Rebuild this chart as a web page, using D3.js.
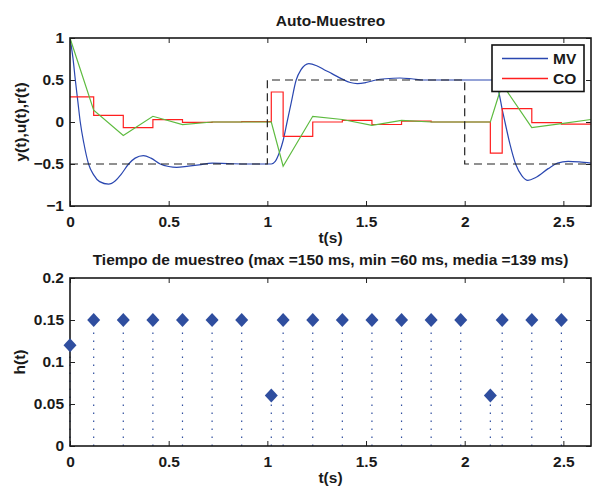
<!DOCTYPE html>
<html>
<head>
<meta charset="utf-8">
<script src="https://cdn.jsdelivr.net/npm/d3@7"></script>
<style>
  body { margin: 0; background: #fff; }
  svg text { font-family: "Liberation Sans", Arial, Helvetica, sans-serif; font-weight: bold; font-size: 15.5px; fill: #1a1a1a; }
</style>
</head>
<body>
<svg id="chart" width="592" height="487"></svg>
<script>
// sampling instants (s) and the period chosen at each of them (s)
const sampleT = [0, 0.12, 0.27, 0.42, 0.57, 0.72, 0.87, 1.02, 1.08, 1.23, 1.38, 1.53, 1.68, 1.83, 1.98, 2.13, 2.19, 2.34, 2.49];
const sampleH = [0.12, 0.15, 0.15, 0.15, 0.15, 0.15, 0.15, 0.06, 0.15, 0.15, 0.15, 0.15, 0.15, 0.15, 0.15, 0.06, 0.15, 0.15, 0.15];
const tEnd = 2.64;

// CO, held between samples
const coVals = [0.30, 0.08, -0.067, 0.028, -0.005, 0.0, 0.005, 0.357, -0.17, 0.0, 0.02, -0.03, 0.01, 0.0, 0.0, -0.37, 0.16, -0.008, -0.025];
// green trace, joined sample to sample (last value at tEnd)
const uVals = [1.0, 0.14, -0.16, 0.068, -0.03, 0.0, 0.0, 0.0, -0.527, 0.068, 0.03, -0.04, 0.02, 0.0, 0.0, 0.0, 0.45, -0.067, -0.02, 0.03];

// MV, plant output
const mvT = [0, 0.008, 0.015, 0.027, 0.04, 0.052, 0.07, 0.094, 0.12, 0.15, 0.195, 0.23, 0.26, 0.297, 0.33, 0.372, 0.41, 0.457,
  0.5, 0.54, 0.6, 0.654, 0.72, 0.8, 0.9, 1.02, 1.04, 1.06, 1.08, 1.1, 1.12, 1.146, 1.17, 1.21, 1.25, 1.29, 1.327, 1.38,
  1.42, 1.456, 1.5, 1.55, 1.6, 1.672, 1.73, 1.79, 2.0, 2.15, 2.163, 2.173, 2.19, 2.204, 2.23, 2.258, 2.29, 2.32, 2.36,
  2.423, 2.47, 2.524, 2.58, 2.64];
const mvVals = [1.0, 0.88, 0.76, 0.5, 0.24, 0.0, -0.25, -0.5, -0.63, -0.71, -0.74, -0.70, -0.62, -0.5, -0.43, -0.40, -0.43, -0.5,
  -0.53, -0.54, -0.525, -0.51, -0.49, -0.495, -0.5, -0.5, -0.47, -0.37, -0.22, 0.0, 0.22, 0.5, 0.62, 0.695, 0.67, 0.62, 0.576, 0.51,
  0.47, 0.457, 0.47, 0.5, 0.515, 0.524, 0.515, 0.5, 0.5, 0.5, 0.45, 0.357, 0.15, 0.0, -0.27, -0.5, -0.64, -0.694, -0.66,
  -0.555, -0.49, -0.468, -0.475, -0.49];

// reference r(t)
const refT = [0, 1, 1, 2, 2, 2.64];
const refVals = [-0.5, -0.5, 0.5, 0.5, -0.5, -0.5];

const xTicks = [0, 0.5, 1, 1.5, 2, 2.5];
const yTicksTop = [-1, -0.5, 0, 0.5, 1];
const yTicksBottom = [0, 0.05, 0.1, 0.15, 0.2];
const legendNames = ["MV", "CO"];

const blue = "#2a47b0", red = "#ff1f1f", green = "#5dbb3f", markBlue = "#2f4e9f";

const svg = d3.select("#chart");
const left = 70, right = 591;

const x = d3.scaleLinear().domain([0, tEnd]).range([left, right]);
const yTop = d3.scaleLinear().domain([-1, 1]).range([206, 38]);
const yBot = d3.scaleLinear().domain([0, 0.2]).range([446, 278]);

const fmt = d => String(d).replace("-", "\u2212");

function frame(y, yTicks, clipId) {
  const [y1, y0] = y.range();
  const g = svg.append("g");

  g.append("g")
    .attr("transform", `translate(0,${y1})`)
    .call(d3.axisBottom(x).tickValues(xTicks).tickSizeInner(-5).tickSizeOuter(0).tickPadding(10).tickFormat(fmt));
  g.append("g")
    .attr("transform", `translate(0,${y0})`)
    .call(d3.axisTop(x).tickValues(xTicks).tickSizeInner(-5).tickSizeOuter(0).tickFormat(""));
  g.append("g")
    .attr("transform", `translate(${left},0)`)
    .call(d3.axisLeft(y).tickValues(yTicks).tickSizeInner(-5).tickSizeOuter(0).tickPadding(6).tickFormat(fmt));
  g.append("g")
    .attr("transform", `translate(${right},0)`)
    .call(d3.axisRight(y).tickValues(yTicks).tickSizeInner(-5).tickSizeOuter(0).tickFormat(""));

  g.selectAll(".domain").remove();
  g.selectAll(".tick line").attr("stroke", "#222").attr("stroke-width", 1);

  svg.append("defs").append("clipPath").attr("id", clipId)
    .append("rect").attr("x", left).attr("y", y0).attr("width", right - left).attr("height", y1 - y0);

  return g;
}

function box(y) {
  const [y1, y0] = y.range();
  svg.append("rect")
    .attr("x", left).attr("y", y0)
    .attr("width", right - left).attr("height", y1 - y0)
    .attr("fill", "none").attr("stroke", "#1a1a1a").attr("stroke-width", 1.6);
}

// ---- top panel ----
frame(yTop, yTicksTop, "clipTop");
const plotTop = svg.append("g").attr("clip-path", "url(#clipTop)");

const mvLine = d3.line().x(d => x(d[0])).y(d => yTop(d[1])).curve(d3.curveMonotoneX);
plotTop.append("path")
  .datum(d3.zip(mvT, mvVals))
  .attr("d", mvLine)
  .attr("fill", "none").attr("stroke", blue).attr("stroke-width", 1.2);

const coLine = d3.line().x(d => x(d[0])).y(d => yTop(d[1])).curve(d3.curveStepAfter);
plotTop.append("path")
  .datum(d3.zip(sampleT.concat([tEnd]), coVals.concat([coVals[coVals.length - 1]])))
  .attr("d", coLine)
  .attr("fill", "none").attr("stroke", red).attr("stroke-width", 1.2);

const straight = d3.line().x(d => x(d[0])).y(d => yTop(d[1]));
plotTop.append("path")
  .datum(d3.zip(sampleT.concat([tEnd]), uVals))
  .attr("d", straight)
  .attr("fill", "none").attr("stroke", green).attr("stroke-width", 1.2);

plotTop.append("path")
  .datum(d3.zip(refT, refVals))
  .attr("d", straight)
  .attr("fill", "none").attr("stroke", "#222").attr("stroke-width", 1.2)
  .attr("stroke-dasharray", "8,5");

box(yTop);

svg.append("text")
  .attr("x", (left + right) / 2).attr("y", 25.5)
  .attr("text-anchor", "middle")
  .text("Auto-Muestreo");
svg.append("text")
  .attr("x", (left + right) / 2).attr("y", 243)
  .attr("text-anchor", "middle")
  .text("t(s)");
svg.append("text")
  .attr("transform", `translate(26,${(yTop.range()[0] + yTop.range()[1]) / 2}) rotate(-90)`)
  .attr("text-anchor", "middle")
  .text("y(t),u(t),r(t)");

// legend
const legend = svg.append("g").attr("transform", "translate(492,45)");
legend.append("rect")
  .attr("width", 92).attr("height", 46.5)
  .attr("fill", "#fff").attr("stroke", "#111").attr("stroke-width", 1.6);
legend.selectAll("g.item")
  .data(legendNames)
  .join("g")
  .attr("class", "item")
  .attr("transform", (d, i) => `translate(0,${13.5 + i * 20})`)
  .each(function (d, i) {
    const item = d3.select(this);
    item.append("line")
      .attr("x1", 10).attr("x2", 56)
      .attr("stroke", i === 0 ? blue : red).attr("stroke-width", 1.3);
    item.append("text")
      .attr("x", 61).attr("y", 0).attr("dy", "0.36em")
      .text(d);
  });

// ---- bottom panel ----
frame(yBot, yTicksBottom, "clipBot");
const samples = d3.zip(sampleT, sampleH);

svg.append("g")
  .selectAll("line")
  .data(samples)
  .join("line")
  .attr("x1", d => x(d[0])).attr("x2", d => x(d[0]))
  .attr("y1", yBot(0)).attr("y2", d => yBot(d[1]))
  .attr("stroke", markBlue).attr("stroke-width", 1.2)
  .attr("stroke-dasharray", "1.5,6.5");

box(yBot);

svg.append("g")
  .selectAll("path")
  .data(samples)
  .join("path")
  .attr("transform", d => `translate(${x(d[0])},${yBot(d[1])})`)
  .attr("d", "M0,-7L6.5,0L0,7L-6.5,0Z")
  .attr("fill", markBlue);

const ms = v => Math.round(v * 1000);
svg.append("text")
  .attr("x", (left + right) / 2).attr("y", 265)
  .attr("text-anchor", "middle")
  .text(`Tiempo de muestreo (max =${ms(d3.max(sampleH))} ms, min =${ms(d3.min(sampleH))} ms, media =${ms(d3.mean(sampleH))} ms)`);
svg.append("text")
  .attr("x", (left + right) / 2).attr("y", 483)
  .attr("text-anchor", "middle")
  .text("t(s)");
svg.append("text")
  .attr("transform", `translate(25,${(yBot.range()[0] + yBot.range()[1]) / 2}) rotate(-90)`)
  .attr("text-anchor", "middle")
  .text("h(t)");
</script>
</body>
</html>
